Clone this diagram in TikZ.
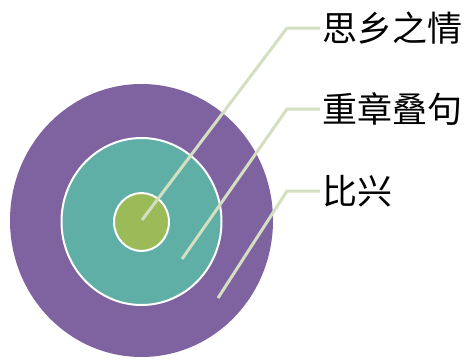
\documentclass[tikz,border=0pt]{standalone}
\usepackage{fontspec}
\newfontfamily\cjk{Noto Sans CJK SC}
\usetikzlibrary{shapes.geometric}
\definecolor{ringOuter}{HTML}{7F63A0}
\definecolor{ringMiddle}{HTML}{5FAFA6}
\definecolor{ringInner}{HTML}{9BBB59}
\definecolor{leaderGreen}{HTML}{D3DFC0}

\begin{document}
\begin{tikzpicture}[x=1pt, y=-1pt,
    ring/.style={ellipse, draw=white, line width=2pt, inner sep=0pt},
    leader/.style={draw=leaderGreen, line width=3pt},
    tag/.style={anchor=west, inner sep=0pt, font=\cjk\fontsize{35}{35}\selectfont}]
    \useasboundingbox (0,0) rectangle (469,360);

    % Rings
    \node[ring, draw=none, fill=ringOuter, minimum width=263pt, minimum height=273pt] (Outer) at (141.5,220.5) {};
    \node[ring, fill=ringMiddle, minimum width=160pt, minimum height=167pt] (Middle) at (141.5,221.5) {};
    \node[ring, fill=ringInner, minimum width=55pt, minimum height=58pt] (Inner) at (141.5,222) {};

    % Labels and leaders
    \foreach \name/\txt/\sx/\sy/\ty in {Theme/思乡之情/142/220/28, Form/重章叠句/182/259/109, Trope/比兴/218/298/191}
    {
        \coordinate (\name-start) at (\sx,\sy);
        \node[tag] (\name) at (322,\ty) {\txt};
        \draw[leader] (\name-start) -- ([xshift=-35pt]\name.west) -- ([xshift=-2pt]\name.west);
    }
\end{tikzpicture}
\end{document}
